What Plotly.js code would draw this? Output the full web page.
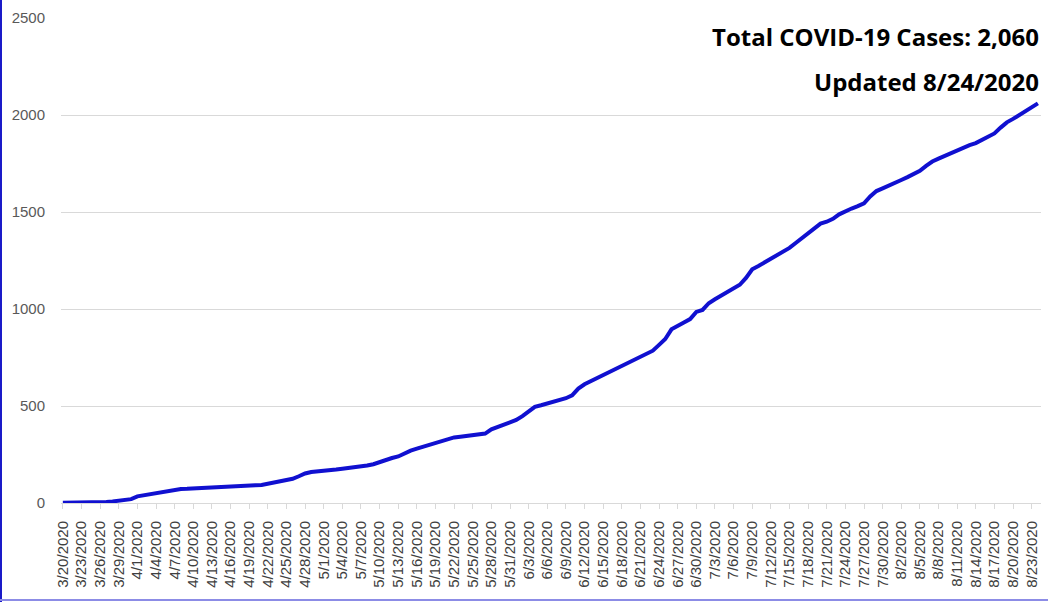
<!DOCTYPE html>
<html>
<head>
<meta charset="utf-8">
<script src="https://cdn.plot.ly/plotly-3.0.1.min.js"></script>
<style>
html,body{margin:0;padding:0;background:#fff;}
#chart{width:1048px;height:602px;}
</style>
</head>
<body>
<div id="chart"></div>
<script>
// Daily dates 3/20/2020 .. 8/24/2020
const dates = [
"3/20/2020","3/21/2020","3/22/2020","3/23/2020","3/24/2020","3/25/2020","3/26/2020","3/27/2020","3/28/2020","3/29/2020","3/30/2020","3/31/2020",
"4/1/2020","4/2/2020","4/3/2020","4/4/2020","4/5/2020","4/6/2020","4/7/2020","4/8/2020","4/9/2020","4/10/2020","4/11/2020","4/12/2020","4/13/2020","4/14/2020","4/15/2020","4/16/2020","4/17/2020","4/18/2020","4/19/2020","4/20/2020","4/21/2020","4/22/2020","4/23/2020","4/24/2020","4/25/2020","4/26/2020","4/27/2020","4/28/2020","4/29/2020","4/30/2020",
"5/1/2020","5/2/2020","5/3/2020","5/4/2020","5/5/2020","5/6/2020","5/7/2020","5/8/2020","5/9/2020","5/10/2020","5/11/2020","5/12/2020","5/13/2020","5/14/2020","5/15/2020","5/16/2020","5/17/2020","5/18/2020","5/19/2020","5/20/2020","5/21/2020","5/22/2020","5/23/2020","5/24/2020","5/25/2020","5/26/2020","5/27/2020","5/28/2020","5/29/2020","5/30/2020","5/31/2020",
"6/1/2020","6/2/2020","6/3/2020","6/4/2020","6/5/2020","6/6/2020","6/7/2020","6/8/2020","6/9/2020","6/10/2020","6/11/2020","6/12/2020","6/13/2020","6/14/2020","6/15/2020","6/16/2020","6/17/2020","6/18/2020","6/19/2020","6/20/2020","6/21/2020","6/22/2020","6/23/2020","6/24/2020","6/25/2020","6/26/2020","6/27/2020","6/28/2020","6/29/2020","6/30/2020",
"7/1/2020","7/2/2020","7/3/2020","7/4/2020","7/5/2020","7/6/2020","7/7/2020","7/8/2020","7/9/2020","7/10/2020","7/11/2020","7/12/2020","7/13/2020","7/14/2020","7/15/2020","7/16/2020","7/17/2020","7/18/2020","7/19/2020","7/20/2020","7/21/2020","7/22/2020","7/23/2020","7/24/2020","7/25/2020","7/26/2020","7/27/2020","7/28/2020","7/29/2020","7/30/2020","7/31/2020",
"8/1/2020","8/2/2020","8/3/2020","8/4/2020","8/5/2020","8/6/2020","8/7/2020","8/8/2020","8/9/2020","8/10/2020","8/11/2020","8/12/2020","8/13/2020","8/14/2020","8/15/2020","8/16/2020","8/17/2020","8/18/2020","8/19/2020","8/20/2020","8/21/2020","8/22/2020","8/23/2020","8/24/2020"
];

// Cumulative cases
const cases = [
1,1,2,2,2,2,3,5,8,11,15,20,
34,40,45,50,55,61,68,72,73,75,76,78,80,85,86,86,87,88,90,92,93,100,106,113,116,125,138,152,160,162,
167,170,173,177,180,184,188,193,200,212,222,232,240,256,270,280,290,298,308,320,330,338,342,346,349,352,358,380,392,403,415,
428,448,475,496,504,512,520,527,540,555,590,612,628,642,658,674,690,708,724,740,756,770,785,815,845,895,915,930,948,985,
995,1030,1050,1068,1088,1108,1125,1160,1205,1222,1240,1258,1275,1292,1315,1340,1365,1390,1418,1440,1450,1465,1488,1505,1518,1530,1545,1580,1608,1622,1635,
1650,1665,1680,1695,1712,1738,1760,1775,1790,1805,1820,1832,1845,1855,1870,1885,1905,1935,1962,1980,2000,2020,2040,2060
];

// Labels shown every third day
const tickLabels = dates.filter((d, i) => i % 3 === 0);

const yTicks = [0, 500, 1000, 1500, 2000, 2500];

const annoLines = ["Total COVID-19 Cases: 2,060", "Updated 8/24/2020"];

const trace = {
  x: dates,
  y: cases,
  type: "scatter",
  mode: "lines",
  line: {color: "#1010d0", width: 4, shape: "linear"},
  hoverinfo: "x+y",
  showlegend: false
};

const layout = {
  width: 1048,
  height: 602,
  margin: {l: 61, r: 7, t: 18, b: 99, pad: 0},
  paper_bgcolor: "#ffffff",
  plot_bgcolor: "#ffffff",
  font: {family: "Liberation Sans, Arial, sans-serif", color: "#595959"},
  xaxis: {
    type: "category",
    range: [-0.3, 157.5],
    tickmode: "array",
    tickvals: tickLabels,
    ticktext: tickLabels,
    tickangle: -90,
    tickfont: {size: 15, color: "#404040", family: "Liberation Sans, Arial, sans-serif"},
    ticks: "outside",
    ticklen: 5,
    tickcolor: "#d9d9d9",
    ticklabelstandoff: 6,
    showgrid: false,
    showline: true,
    linecolor: "#d9d9d9",
    linewidth: 1,
    zeroline: false,
    fixedrange: true
  },
  yaxis: {
    range: [0, 2500],
    tickmode: "array",
    tickvals: yTicks,
    ticktext: yTicks.map(String),
    tickfont: {size: 15, color: "#595959", family: "Liberation Sans, Arial, sans-serif"},
    ticks: "",
    ticklabelstandoff: 15,
    showgrid: true,
    gridcolor: "#d9d9d9",
    gridwidth: 1,
    zeroline: false,
    showline: false,
    fixedrange: true
  },
  annotations: [
    {
      xref: "paper", yref: "paper", x: 1.0, y: (503 - 37) / 485,
      xanchor: "right", yanchor: "middle", showarrow: false,
      text: "<b>" + annoLines[0] + "</b>",
      font: {size: 24, color: "#000000", family: "Open Sans, Liberation Sans, sans-serif"}
    },
    {
      xref: "paper", yref: "paper", x: 1.0, y: (503 - 82) / 485,
      xanchor: "right", yanchor: "middle", showarrow: false,
      text: "<b>" + annoLines[1] + "</b>",
      font: {size: 24, color: "#000000", family: "Open Sans, Liberation Sans, sans-serif"}
    }
  ],
  shapes: [
    {type: "line", xref: "paper", yref: "paper",
     x0: (1 - 61) / 980, x1: (1 - 61) / 980, y0: (503 - 602) / 485, y1: 503 / 485,
     line: {color: "#1a1ac8", width: 2}},
    {type: "line", xref: "paper", yref: "paper",
     x0: (0 - 61) / 980, x1: (1048 - 61) / 980, y0: (503 - 600) / 485, y1: (503 - 600) / 485,
     line: {color: "#8c8ce6", width: 2}}
  ]
};

Plotly.newPlot("chart", [trace], layout, {staticPlot: true, displayModeBar: false});
</script>
</body>
</html>
